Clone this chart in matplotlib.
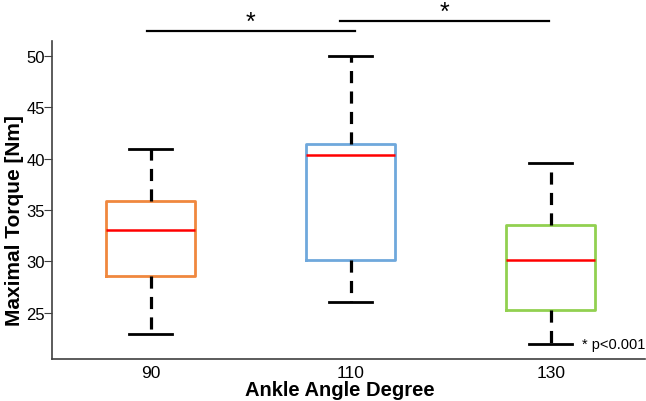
import matplotlib.pyplot as plt

# data
angles = ["90", "110", "130"]
q1 = [28.56, 30.15, 25.29]
q3 = [35.9, 41.38, 33.5]
medians = [33.09, 40.34, 30.15]
whislo = [22.93, 26.0, 21.92]
whishi = [40.9, 50.0, 39.53]
box_colors = ["#f0883e", "#6fa8dc", "#92d050"]

# significance brackets: (x start, x end, height)
sig_pairs = [(0.98, 2.02, 52.4), (1.945, 2.99, 53.4)]

plt.rcParams['font.family'] = ['Liberation Sans', 'DejaVu Sans']

fig = plt.figure(figsize=(6.46, 4.02), dpi=100)
ax = fig.add_axes([0.0805, 0.1045, 0.9175, 0.791])

stats = []
for i in range(len(angles)):
    stats.append({"med": medians[i], "q1": q1[i], "q3": q3[i],
                  "whislo": whislo[i], "whishi": whishi[i],
                  "label": angles[i], "fliers": []})

bp = ax.bxp(stats, positions=[1, 2, 3], widths=0.445, capwidths=0.215,
            showfliers=False, patch_artist=False,
            whiskerprops=dict(color="black", linewidth=2.3, linestyle=(0, (3.8, 2.6))),
            capprops=dict(color="black", linewidth=2.0),
            medianprops=dict(color="#ff0000", linewidth=1.8))

for box, c in zip(bp["boxes"], box_colors):
    box.set_color(c)
    box.set_linewidth(2.0)

ax.set_xlim(0.505, 3.47)
ax.set_ylim(20.5, 51.45)
ax.set_yticks([25, 30, 35, 40, 45, 50])

for spine in ["top", "right"]:
    ax.spines[spine].set_visible(False)
for spine in ["left", "bottom"]:
    ax.spines[spine].set_color("#404040")
    ax.spines[spine].set_linewidth(1.2)

ax.tick_params(axis="y", direction="out", length=6, labelsize=12, color="#404040", pad=-1)
ax.tick_params(axis="x", length=0, labelsize=12.5, pad=4)

ax.set_xlabel("Ankle Angle Degree", fontsize=14.5, fontweight="bold")
ax.xaxis.set_label_coords(0.486, -0.065)
ax.set_ylabel("Maximal Torque [Nm]", fontsize=15, fontweight="bold")
ax.yaxis.set_label_coords(-0.047, 0.44)

for x0, x1, h in sig_pairs:
    ax.plot([x0, x1], [h, h], color="black", linewidth=1.6, clip_on=False)
    ax.text((x0 + x1) / 2, h - 0.3, "*", ha="center", va="bottom",
            fontsize=18)

ax.text(3.155, 22.0, "* p<0.001", fontsize=10.5, va="center", ha="left")

fig.savefig("out.png", dpi=100)
